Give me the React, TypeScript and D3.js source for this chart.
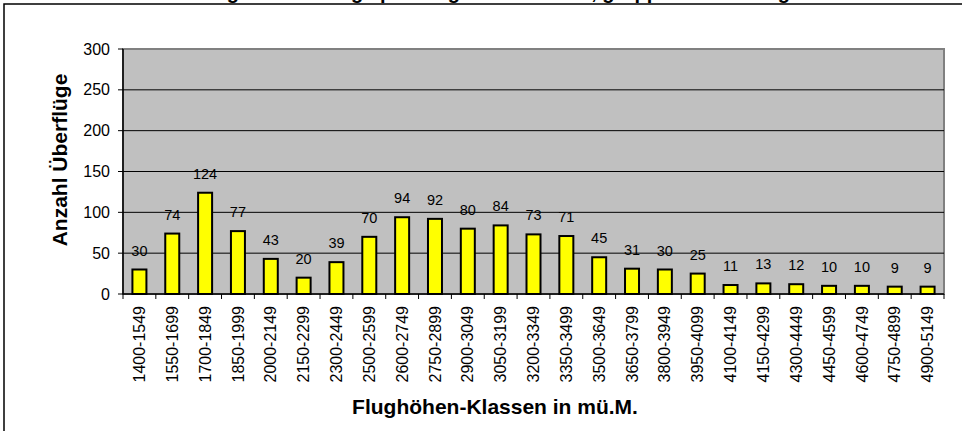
import React from "react";
import * as d3 from "d3";

const categories = [
  "1400-1549", "1550-1699", "1700-1849", "1850-1999", "2000-2149", "2150-2299",
  "2300-2449", "2500-2599", "2600-2749", "2750-2899", "2900-3049", "3050-3199",
  "3200-3349", "3350-3499", "3500-3649", "3650-3799", "3800-3949", "3950-4099",
  "4100-4149", "4150-4299", "4300-4449", "4450-4599", "4600-4749", "4750-4899",
  "4900-5149",
];
const values = [30, 74, 124, 77, 43, 20, 39, 70, 94, 92, 80, 84, 73, 71, 45, 31, 30, 25, 11, 13, 12, 10, 10, 9, 9];
const yTicks = [0, 50, 100, 150, 200, 250, 300];
const title = "Verteilung der Überflüge pro Flughöhen-Klasse, gruppiert nach Flughöhe";
const xTitle = "Flughöhen-Klassen in mü.M.";
const yTitle = "Anzahl Überflüge";

const W = 962;
const H = 431;
const plot = { left: 123, right: 944, top: 49, bottom: 294 };
const font = "Arial, 'Liberation Sans', sans-serif";

export default function App() {
  const x = d3.scaleBand<string>().domain(categories).range([plot.left, plot.right]).padding(0);
  const y = d3.scaleLinear().domain([0, 300]).range([plot.bottom, plot.top]);
  const bw = 14;
  return (
    <svg width={W} height={H} style={{ position: "fixed", top: 0, left: 0 }} fontFamily={font}>
      <rect x={0} y={0} width={W} height={H} fill="#fff" />
      <text x={490} y={-1} textAnchor="middle" fontSize={20} fontWeight="bold">{title}</text>
      <rect x={4} y={4} width={W + 20} height={H + 20} fill="none" stroke="#000" strokeWidth={1.5} />
      <rect x={plot.left} y={plot.top} width={plot.right - plot.left} height={plot.bottom - plot.top}
        fill="#C0C0C0" stroke="#808080" strokeWidth={2} />
      {yTicks.filter((t) => t > 0 && t < 300).map((t) => (
        <line key={"g" + t} x1={plot.left} x2={plot.right} y1={y(t)} y2={y(t)} stroke="#000" strokeWidth={1} />
      ))}
      {yTicks.map((t) => (
        <g key={"t" + t}>
          <line x1={plot.left - 5} x2={plot.left} y1={y(t)} y2={y(t)} stroke="#000" strokeWidth={1} />
          <text x={110} y={y(t)} dy="0.35em" textAnchor="end" fontSize={16}>{t}</text>
        </g>
      ))}
      {categories.map((c, i) => {
        const cx = (x(c) as number) + x.bandwidth() / 2;
        const v = values[i];
        return (
          <g key={c}>
            <rect x={cx - bw / 2} y={y(v)} width={bw} height={plot.bottom - y(v)} fill="#FFFF00" stroke="#000" strokeWidth={2} />
            <text x={cx} y={y(v) - 14} textAnchor="middle" fontSize={14.5}>{v}</text>
            <text transform={`translate(${cx},306) rotate(-90)`} dy="0.35em" textAnchor="end" fontSize={16}>{c}</text>
          </g>
        );
      })}
      {categories.map((c) => (
        <line key={"xt" + c} x1={x(c) as number} x2={x(c) as number} y1={plot.bottom} y2={plot.bottom + 5} stroke="#000" strokeWidth={1} />
      ))}
      <line x1={plot.right} x2={plot.right} y1={plot.bottom} y2={plot.bottom + 5} stroke="#000" strokeWidth={1} />
      <line x1={plot.left} x2={plot.right} y1={plot.bottom} y2={plot.bottom} stroke="#000" strokeWidth={1.5} />
      <line x1={plot.left} x2={plot.left} y1={plot.top} y2={plot.bottom} stroke="#000" strokeWidth={1.5} />
      <text x={495} y={414} textAnchor="middle" fontSize={21} fontWeight="bold">{xTitle}</text>
      <text transform={`translate(67,160) rotate(-90)`} textAnchor="middle" fontSize={21} fontWeight="bold">{yTitle}</text>
    </svg>
  );
}
